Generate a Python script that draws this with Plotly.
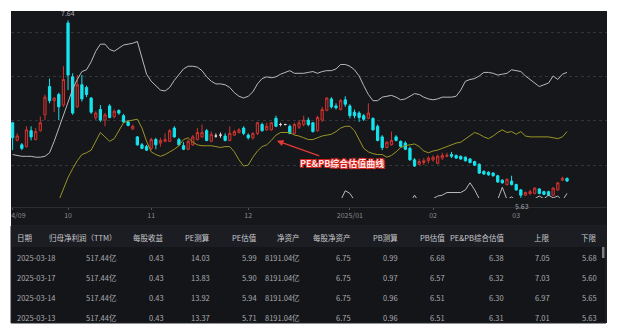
import pandas as pd
import plotly.graph_objects as go

W, H = 619, 334
FONT = "Noto Sans CJK SC, Noto Sans, sans-serif"


def fx(p):
    return p / W


def fy(p):
    return 1 - p / H


# ---- trading calendar (SSE) -------------------------------------------
holidays = ["2024-09-16", "2024-09-17", "2024-10-01", "2024-10-02", "2024-10-03",
            "2024-10-04", "2024-10-07", "2025-01-01", "2025-01-28", "2025-01-29",
            "2025-01-30", "2025-01-31", "2025-02-03", "2025-02-04"]
dates = [d.strftime("%Y-%m-%d") for d in pd.bdate_range("2024-09-11", "2025-03-18")
         if d.strftime("%Y-%m-%d") not in holidays]

tick_text = ["2024/09", "10", "11", "12", "2025/01", "02", "03"]

# ---- daily prices -------------------------------------------------------
open_ = [6.48, 6.28, 6.23, 6.21, 6.39, 6.29, 6.39, 6.57, 6.89, 6.73,
         6.80, 6.68, 7.61, 7.00, 6.66, 6.91, 6.88, 6.76, 6.54, 6.63,
         6.51, 6.67, 6.55, 6.62, 6.56, 6.49, 6.41, 6.32, 6.23, 6.21,
         6.19, 6.29, 6.25, 6.27, 6.27, 6.42, 6.29, 6.22, 6.18, 6.23,
         6.29, 6.32, 6.39, 6.27, 6.33, 6.34, 6.33, 6.28, 6.34, 6.37,
         6.42, 6.34, 6.31, 6.36, 6.46, 6.40, 6.40, 6.53, 6.46, 6.46,
         6.44, 6.36, 6.43, 6.46, 6.51, 6.48, 6.39, 6.51, 6.62, 6.75,
         6.67, 6.63, 6.74, 6.67, 6.60, 6.59, 6.56, 6.53, 6.53, 6.44,
         6.32, 6.20, 6.23, 6.32, 6.27, 6.25, 6.19, 6.06, 6.01, 6.03,
         6.05, 6.06, 6.02, 6.08, 6.10, 6.12, 6.11, 6.10, 6.09, 6.07,
         6.04, 6.01, 5.93, 5.92, 5.91, 5.88, 5.83, 5.78, 5.82, 5.78,
         5.72, 5.66, 5.68, 5.68, 5.73, 5.70, 5.70, 5.66, 5.72, 5.83,
         5.85]
high = [6.49, 6.36, 6.25, 6.44, 6.44, 6.42, 6.55, 6.80, 6.98, 6.77,
        6.82, 7.12, 7.64, 7.04, 7.02, 7.02, 6.90, 6.77, 6.61, 6.68,
        6.59, 6.69, 6.63, 6.63, 6.58, 6.51, 6.46, 6.33, 6.25, 6.23,
        6.31, 6.31, 6.31, 6.36, 6.41, 6.44, 6.31, 6.26, 6.29, 6.34,
        6.42, 6.46, 6.41, 6.38, 6.36, 6.37, 6.36, 6.44, 6.40, 6.42,
        6.44, 6.36, 6.37, 6.49, 6.48, 6.48, 6.49, 6.56, 6.48, 6.47,
        6.46, 6.48, 6.51, 6.56, 6.54, 6.49, 6.56, 6.66, 6.77, 6.77,
        6.70, 6.75, 6.78, 6.69, 6.63, 6.61, 6.58, 6.70, 6.54, 6.46,
        6.34, 6.27, 6.38, 6.34, 6.28, 6.27, 6.21, 6.08, 6.07, 6.08,
        6.10, 6.11, 6.12, 6.14, 6.14, 6.15, 6.12, 6.11, 6.10, 6.08,
        6.05, 6.02, 5.94, 5.93, 5.92, 5.89, 5.84, 5.85, 5.88, 5.79,
        5.73, 5.70, 5.72, 5.75, 5.74, 5.71, 5.71, 5.75, 5.81, 5.87,
        5.86]
low = [6.17, 6.27, 6.17, 6.20, 6.28, 6.28, 6.38, 6.51, 6.70, 6.60,
       6.51, 6.66, 6.85, 6.57, 6.65, 6.72, 6.77, 6.58, 6.51, 6.49,
       6.44, 6.53, 6.53, 6.57, 6.48, 6.44, 6.40, 6.22, 6.18, 6.16,
       6.17, 6.18, 6.21, 6.26, 6.26, 6.31, 6.22, 6.17, 6.17, 6.22,
       6.28, 6.31, 6.27, 6.26, 6.31, 6.31, 6.27, 6.27, 6.33, 6.36,
       6.34, 6.29, 6.29, 6.34, 6.38, 6.39, 6.39, 6.43, 6.44, 6.45,
       6.35, 6.35, 6.41, 6.44, 6.44, 6.37, 6.38, 6.49, 6.61, 6.64,
       6.63, 6.62, 6.66, 6.53, 6.53, 6.49, 6.50, 6.52, 6.39, 6.27,
       6.17, 6.19, 6.22, 6.27, 6.20, 6.17, 6.05, 5.98, 6.00, 6.00,
       6.02, 6.04, 6.01, 6.06, 6.09, 6.08, 6.07, 6.06, 6.04, 6.02,
       5.99, 5.90, 5.89, 5.88, 5.87, 5.80, 5.79, 5.77, 5.77, 5.71,
       5.63, 5.65, 5.66, 5.67, 5.67, 5.66, 5.65, 5.65, 5.71, 5.82,
       5.81]
close = [6.31, 6.33, 6.19, 6.40, 6.32, 6.38, 6.48, 6.77, 6.73, 6.76,
         6.66, 6.97, 7.02, 6.59, 6.91, 6.75, 6.80, 6.60, 6.59, 6.51,
         6.57, 6.54, 6.61, 6.59, 6.49, 6.45, 6.44, 6.23, 6.19, 6.17,
         6.29, 6.23, 6.28, 6.29, 6.39, 6.32, 6.23, 6.18, 6.27, 6.32,
         6.37, 6.37, 6.28, 6.35, 6.33, 6.34, 6.28, 6.36, 6.38, 6.40,
         6.36, 6.31, 6.36, 6.48, 6.39, 6.44, 6.48, 6.44, 6.46, 6.46,
         6.36, 6.46, 6.48, 6.51, 6.46, 6.38, 6.54, 6.63, 6.76, 6.66,
         6.65, 6.73, 6.69, 6.56, 6.56, 6.54, 6.52, 6.59, 6.40, 6.28,
         6.20, 6.26, 6.28, 6.28, 6.21, 6.18, 6.06, 5.99, 6.04, 6.05,
         6.08, 6.09, 6.10, 6.11, 6.11, 6.10, 6.08, 6.07, 6.05, 6.03,
         6.00, 5.91, 5.90, 5.89, 5.88, 5.81, 5.80, 5.84, 5.78, 5.72,
         5.66, 5.69, 5.70, 5.74, 5.68, 5.67, 5.66, 5.74, 5.80, 5.85,
         5.82]

# ---- valuation band -----------------------------------------------------
upper = [6.12, 6.11, 6.10, 6.10, 6.10, 6.09, 6.09, 6.10, 6.14, 6.27,
         6.42, 6.58, 6.73, 6.86, 6.97, 7.06, 7.08, 7.17, 7.29, 7.37,
         7.37, 7.31, 7.29, 7.33, 7.36, 7.37, 7.38, 7.40, 7.20, 7.03,
         6.95, 6.90, 6.85, 6.84, 6.88, 6.96, 7.03, 7.09, 7.12, 7.12,
         7.11, 7.07, 7.00, 6.95, 6.92, 6.92, 6.91, 6.88, 6.82, 6.78,
         6.76, 6.78, 6.83, 6.92, 6.98, 7.00, 6.99, 7.00, 7.03, 7.05,
         7.07, 7.04, 7.04, 7.04, 7.05, 7.06, 7.04, 7.06, 7.07, 7.07,
         7.09, 7.14, 7.14, 7.12, 7.08, 7.01, 6.90, 6.80, 6.73, 6.73,
         6.77, 6.78, 6.79, 6.77, 6.74, 6.75, 6.78, 6.81, 6.80, 6.77,
         6.75, 6.74, 6.75, 6.77, 6.77, 6.77, 6.78, 6.85, 6.95, 6.97,
         6.98, 7.01, 7.05, 7.05, 7.04, 7.02, 7.03, 7.04, 7.08, 7.07,
         7.06, 7.01, 6.97, 6.93, 6.89, 6.91, 6.93, 7.01, 6.97, 7.03,
         7.05]
valuation = [None] * 10 + [
    5.60, 5.74, 5.86, 5.96, 6.05, 6.12, 6.14, 6.17, 6.27, 6.37,
    6.32, 6.27, 6.30, 6.39, 6.48, 6.50, 6.51, 6.52, 6.42, 6.27,
    6.15, 6.12, 6.10, 6.12, 6.15, 6.18, 6.22, 6.29, 6.31, 6.26,
    6.23, 6.22, 6.22, 6.22, 6.21, 6.20, 6.21, 6.21, 6.15, 6.06,
    5.99, 6.00, 6.09, 6.16, 6.21, 6.23, 6.28, 6.34, 6.37, 6.37,
    6.37, 6.34, 6.33, 6.31, 6.29, 6.29, 6.31, 6.33, 6.34, 6.35,
    6.38, 6.42, 6.44, 6.44, 6.39, 6.29, 6.19, 6.15, 6.13, 6.12,
    6.12, 6.09, 6.11, 6.15, 6.20, 6.22, 6.23, 6.24, 6.21, 6.16,
    6.14, 6.16, 6.17, 6.19, 6.21, 6.23, 6.25, 6.26, 6.30, 6.34,
    6.37, 6.35, 6.32, 6.30, 6.33, 6.37, 6.40, 6.37, 6.38, 6.35,
    6.38, 6.33, 6.32, 6.32, 6.32, 6.32, 6.32, 6.31, 6.30, 6.32,
    6.38]
lower = [5.18, 5.17, 5.16, 5.15, 5.16, 5.15, 5.15, 5.16, 5.18, 5.22,
         5.26, 5.30, 5.35, 5.40, 5.44, 5.47, 5.49, 5.51, 5.54, 5.57,
         5.58, 5.56, 5.55, 5.57, 5.59, 5.60, 5.60, 5.61, 5.58, 5.52,
         5.47, 5.44, 5.42, 5.43, 5.45, 5.47, 5.50, 5.54, 5.56, 5.53,
         5.50, 5.49, 5.49, 5.50, 5.49, 5.48, 5.49, 5.49, 5.44, 5.37,
         5.31, 5.32, 5.38, 5.44, 5.48, 5.50, 5.53, 5.57, 5.59, 5.60,
         5.59, 5.57, 5.56, 5.54, 5.53, 5.53, 5.54, 5.56, 5.57, 5.58,
         5.59, 5.60, 5.71, 5.68, 5.60, 5.52, 5.45, 5.42, 5.40, 5.39,
         5.39, 5.37, 5.38, 5.42, 5.47, 5.52, 5.57, 5.66, 5.58, 5.50,
         5.52, 5.62, 5.65, 5.66, 5.69, 5.69, 5.69, 5.69, 5.72, 5.80,
         5.72, 5.62, 5.56, 5.54, 5.57, 5.61, 5.75, 5.61, 5.64, 5.60,
         5.58, 5.57, 5.60, 5.62, 5.65, 5.62, 5.66, 5.63, 5.65, 5.60,
         5.68]

signal_date = "2024-09-13"
signal_value = 5.596

# ---- valuation table ----------------------------------------------------
table_header = ["日期", "归母净利润（TTM）", "每股收益", "PE测算", "PE估值", "净资产",
                "每股净资产", "PB测算", "PB估值", "PE&PB综合估值", "上限", "下限"]
tbl_date = ["2025-03-18", "2025-03-17", "2025-03-14", "2025-03-13"]
tbl_profit = ["517.44亿", "517.44亿", "517.44亿", "517.44亿"]
tbl_eps = [0.43, 0.43, 0.43, 0.43]
tbl_pe_calc = [14.03, 13.83, 13.92, 13.37]
tbl_pe_val = [5.99, 5.90, 5.94, 5.71]
tbl_net_assets = ["8191.04亿", "8191.04亿", "8191.04亿", "8191.04亿"]
tbl_bvps = [6.75, 6.75, 6.75, 6.75]
tbl_pb_calc = [0.99, 0.97, 0.96, 0.96]
tbl_pb_val = [6.68, 6.57, 6.51, 6.51]
tbl_combined = [6.38, 6.32, 6.30, 6.31]
tbl_upper = [7.05, 7.03, 6.97, 7.01]
tbl_lower = [5.68, 5.60, 5.65, 5.63]

# ---- colours ------------------------------------------------------------
BG = "#16171b"
RED = "#cf3431"
RED_FILL = "#3a1819"
CYAN = "#16e4ee"
GRID = "#34353b"
TXT = "#8b8c91"

fig = go.Figure()

doji = [i for i in range(len(dates)) if open_[i] == close[i]]
body = [i for i in range(len(dates)) if open_[i] != close[i]]

fig.add_trace(go.Candlestick(
    x=[dates[i] for i in body],
    open=[open_[i] for i in body], high=[high[i] for i in body],
    low=[low[i] for i in body], close=[close[i] for i in body],
    increasing=dict(line=dict(color=RED, width=1), fillcolor=RED_FILL),
    decreasing=dict(line=dict(color=CYAN, width=1), fillcolor=CYAN),
    whiskerwidth=0, name="K线"))
fig.add_trace(go.Candlestick(
    x=[dates[i] for i in doji],
    open=[open_[i] for i in doji], high=[high[i] for i in doji],
    low=[low[i] for i in doji], close=[close[i] for i in doji],
    increasing=dict(line=dict(color="#d8d8d8", width=1), fillcolor="#d8d8d8"),
    decreasing=dict(line=dict(color="#d8d8d8", width=1), fillcolor="#d8d8d8"),
    whiskerwidth=0, name="十字星"))

fig.add_trace(go.Scatter(x=dates, y=upper, mode="lines", name="上限",
                         line=dict(color="#b9b9bc", width=1)))
fig.add_trace(go.Scatter(x=dates, y=valuation, mode="lines", name="PE&PB综合估值",
                         line=dict(color="#9a9526", width=1)))
fig.add_trace(go.Scatter(x=dates, y=lower, mode="lines", name="下限",
                         line=dict(color="#b9b9bc", width=1)))
fig.add_trace(go.Scatter(x=[signal_date], y=[signal_value], mode="markers",
                         marker=dict(color="#e53935", size=4), cliponaxis=False,
                         name="信号"))

i_hi = max(range(len(high)), key=lambda i: high[i])
i_lo = min(range(len(low)), key=lambda i: low[i])

annotations = [
    dict(x=dates[i_hi], y=high[i_hi], xref="x", yref="y", text=f"{high[i_hi]:.2f}",
         showarrow=False, yanchor="bottom", yshift=0,
         font=dict(size=7, color="#a4a5aa", family=FONT)),
    dict(x=dates[i_lo], y=low[i_lo], xref="x", yref="y", text=f"{low[i_lo]:.2f}",
         showarrow=False, yanchor="top", yshift=-1, xshift=1,
         font=dict(size=7, color="#a4a5aa", family=FONT)),
    dict(x=57.2, y=6.275, xref="x", yref="y", text="PE&PB综合估值曲线",
         showarrow=True, arrowhead=2, arrowsize=1, arrowwidth=1.3, arrowcolor="#e53935",
         ax=65, ay=23, axref="pixel", ayref="pixel",
         font=dict(size=9, color="#ffe6e6", family=FONT, weight="bold",
                   shadow="-1px -1px 0 #d8211c, 1px -1px 0 #d8211c, -1px 1px 0 #d8211c, 1px 1px 0 #d8211c")),
]

# table text
table_cols = [tbl_date, tbl_profit, tbl_eps, tbl_pe_calc, tbl_pe_val, tbl_net_assets,
              tbl_bvps, tbl_pb_calc, tbl_pb_val, tbl_combined, tbl_upper, tbl_lower]
col_x = [15, 119, 166, 212, 259, 302, 353, 400, 447, 506, 552, 599]
header_y = 237
row_y = [257, 277, 297, 317]
for c, (name, values) in enumerate(zip(table_header, table_cols)):
    anchor = "left" if c == 0 else "right"
    annotations.append(dict(x=fx(col_x[c]), y=fy(header_y), xref="paper", yref="paper",
                            text=name, showarrow=False, xanchor=anchor, yanchor="middle",
                            font=dict(size=7.5, color="#c9cace", family=FONT)))
    for r, v in enumerate(values):
        s = v if isinstance(v, str) else f"{v:.2f}"
        annotations.append(dict(x=fx(col_x[c]), y=fy(row_y[r]), xref="paper", yref="paper",
                                text=s, showarrow=False, xanchor=anchor, yanchor="middle",
                                font=dict(size=7.5, color="#a9aaaf", family=FONT)))

shapes = [
    # dark panel
    dict(type="rect", xref="paper", yref="paper", x0=fx(11), x1=fx(607), y0=fy(323), y1=fy(11),
         fillcolor=BG, line=dict(width=0), layer="below"),
    # table body and header band
    dict(type="rect", xref="paper", yref="paper", x0=fx(11), x1=fx(606), y0=fy(323), y1=fy(226),
         fillcolor="#141519", line=dict(color="#25262b", width=1), layer="below"),
    dict(type="rect", xref="paper", yref="paper", x0=fx(11.5), x1=fx(605.5), y0=fy(247), y1=fy(226.5),
         fillcolor="#1c1d22", line=dict(width=0), layer="below"),
    # scroll thumb
    dict(type="rect", xref="paper", yref="paper", x0=fx(602), x1=fx(604.5), y0=fy(258), y1=fy(247),
         fillcolor="#7d7e83", line=dict(width=0), layer="above"),
    # page margin left of the panel
    dict(type="rect", xref="paper", yref="paper", x0=0, x1=fx(11), y0=fy(226), y1=fy(198),
         fillcolor="#ffffff", line=dict(width=0), layer="above"),
]

fig.update_layout(
    width=W, height=H,
    margin=dict(l=0, r=0, t=0, b=0, autoexpand=False),
    paper_bgcolor="#ffffff", plot_bgcolor="rgba(0,0,0,0)",
    showlegend=False, hovermode=False,
    xaxis=dict(type="category", categoryorder="array", categoryarray=dates,
               domain=[fx(11), fx(607)], range=[-0.346, 128.65],
               anchor="free", position=fy(207),
               showline=True, linecolor="#2c2d33", linewidth=1,
               ticks="outside", ticklen=2, tickcolor="#505157",
               tickvals=[dates[i] for i in range(len(dates))
                         if i == 0 or dates[i][:7] != dates[i - 1][:7]],
               ticktext=tick_text, ticklabeloverflow="allow",
               tickfont=dict(size=7, color=TXT, family=FONT),
               showgrid=False, zeroline=False,
               rangeslider=dict(visible=False), fixedrange=True),
    yaxis=dict(domain=[fy(198), fy(11)], range=[5.628, 7.7455],
               showticklabels=False, ticks="", tickvals=[6.0, 6.5, 7.0, 7.5],
               showgrid=True, gridcolor=GRID, griddash="dot", gridwidth=1,
               zeroline=False, showline=False, fixedrange=True),
    annotations=annotations,
    shapes=shapes,
)

fig.write_html("out.html")
